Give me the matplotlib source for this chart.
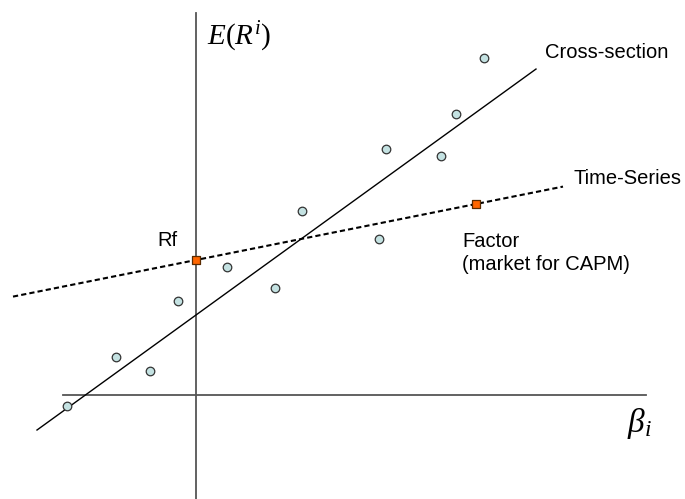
import matplotlib
matplotlib.use("Agg")
import matplotlib.pyplot as plt
import numpy as np

plt.rcParams['font.family'] = ['Liberation Sans', 'DejaVu Sans']
plt.rcParams['mathtext.fontset'] = 'custom'
plt.rcParams['mathtext.rm'] = 'Liberation Serif'
plt.rcParams['mathtext.it'] = 'Liberation Serif:italic'

# scatter of assets (beta, expected return)
asset_beta = [-1.29, -0.80, -0.46, -0.18, 0.31, 0.79, 1.06, 1.83, 1.90, 2.45, 2.60, 2.88]
asset_ret = [-0.11, 0.38, 0.24, 0.94, 1.28, 1.07, 1.84, 1.56, 2.46, 2.39, 2.81, 3.37]

# cross-section line
cs_intercept = 0.80
cs_slope = 0.7234
cs_x = [-1.59, 3.40]

# time-series line through Rf and the factor
rf = 1.35
factor_beta = 2.80
factor_ret = 1.91
ts_x = [-1.83, 3.67]

fig = plt.figure(figsize=(6.85, 4.99), dpi=100)
ax = fig.add_axes([0, 0, 1, 1])
ax.set_xlim(-1.96, 4.89)
ax.set_ylim(-1.04, 3.95)
ax.axis('off')

# axes lines
ax.plot([0, 0], [-1.04, 3.82], color='#555555', lw=1.3, zorder=1)
ax.plot([-1.33, 4.50], [0, 0], color='#555555', lw=1.3, zorder=1)

# cross-section line
xs = np.array(cs_x)
ax.plot(xs, cs_intercept + cs_slope * xs, color='black', lw=1.0, zorder=2)

# time-series line
ts_slope = (factor_ret - rf) / factor_beta
xt = np.array(ts_x)
ax.plot(xt, rf + ts_slope * xt, color='black', lw=1.5, ls=(0, (2.5, 1.5)), zorder=2)

# points
ax.scatter(asset_beta, asset_ret, s=38, facecolor='#C4E2E2', edgecolor='#333333',
           linewidths=0.9, zorder=3)
ax.scatter([0, factor_beta], [rf, factor_ret], marker='s', s=36, facecolor='#FF6600',
           edgecolor='#5a2a00', linewidths=0.9, zorder=4)

# labels
ax.text(0.11, 3.50, r'$E(R^i)$', fontsize=21, va='baseline', ha='left')
ax.text(4.31, -0.37, r'$\beta_i$', fontsize=24, va='baseline', ha='left')
ax.text(3.49, 3.37, 'Cross-section', fontsize=14.5, va='baseline', ha='left')
ax.text(3.77, 2.11, 'Time-Series', fontsize=14.5, va='baseline', ha='left')
ax.text(-0.39, 1.49, 'Rf', fontsize=14.5, va='baseline', ha='left')
ax.text(2.66, 1.48, 'Factor', fontsize=14.5, va='baseline', ha='left')
ax.text(2.66, 1.25, '(market for CAPM)', fontsize=14.5, va='baseline', ha='left')

fig.savefig('out.png', dpi=100)
